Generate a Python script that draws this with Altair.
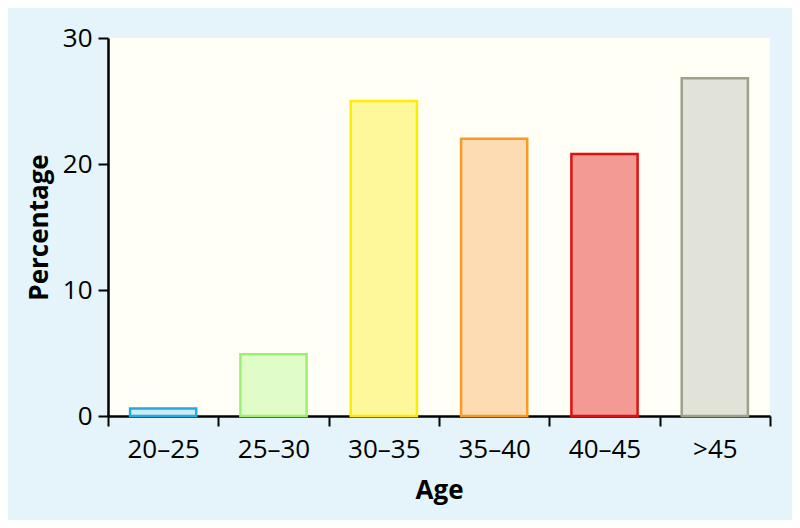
import json
import altair as alt
import pandas as pd

categories = ["20–25", "25–30", "30–35", "35–40", "40–45", ">45"]
values = [0.6, 4.9, 25.0, 22.0, 20.8, 26.8]
fills = ["#cdebf7", "#e0fcc8", "#fff89a", "#fddcb3", "#f29a93", "#e1e2d8"]
strokes = ["#29a8e0", "#9ff06e", "#ffec00", "#f99a25", "#e01010", "#9ea28a"]
y_ticks = [0, 10, 20, 30]

n = len(categories)
df = pd.DataFrame({
    "Age": categories,
    "Percentage": values,
    "start": [i + 0.2 for i in range(n)],
    "end": [i + 0.8 for i in range(n)],
})

FONT = "Open Sans"
W, H = 662, 378
FS = 26

label_expr = json.dumps(categories) + "[datum.value] || ''"

chart = (
    alt.Chart(df)
    .mark_bar(strokeWidth=2.5)
    .encode(
        x=alt.X(
            "start:Q",
            scale=alt.Scale(domain=[0, n], nice=False, zero=True),
            axis=alt.Axis(
                title="Age",
                values=list(range(n + 1)),
                labelExpr=label_expr,
                labelOffset=W / n / 2,
                labelAngle=0,
                labelFlush=False,
                labelOverlap=False,
                grid=False,
                tickSize=10,
                tickWidth=2,
                tickColor="black",
                domainColor="black",
                domainWidth=2.5,
                labelFontSize=FS,
                labelFont=FONT,
                labelColor="black",
                labelPadding=10,
                titleFontSize=FS,
                titleFont=FONT,
                titleFontWeight="bold",
                titleColor="black",
                titlePadding=15,
            ),
        ),
        x2="end:Q",
        y=alt.Y(
            "Percentage:Q",
            scale=alt.Scale(domain=[0, 30], nice=False),
            axis=alt.Axis(
                title="Percentage",
                values=y_ticks,
                grid=False,
                tickSize=10,
                tickWidth=2,
                tickColor="black",
                domainColor="black",
                domainWidth=2.5,
                labelFontSize=FS,
                labelFont=FONT,
                labelColor="black",
                labelPadding=6,
                titleFontSize=FS,
                titleFont=FONT,
                titleFontWeight="bold",
                titleColor="black",
                titlePadding=10,
            ),
        ),
        y2=alt.datum(0),
        fill=alt.Fill("Age:N", scale=alt.Scale(domain=categories, range=fills), legend=None),
        stroke=alt.Stroke("Age:N", scale=alt.Scale(domain=categories, range=strokes), legend=None),
    )
    .properties(
        width=W,
        height=H,
        background="#e5f4fa",
        padding={"left": 100, "top": 30, "right": 22, "bottom": 104},
        autosize=alt.AutoSizeParams(type="none"),
    )
    .configure_view(fill="#fffff5", stroke=None)
)

chart.save("out.html", embed_options={"renderer": "svg", "actions": False})
